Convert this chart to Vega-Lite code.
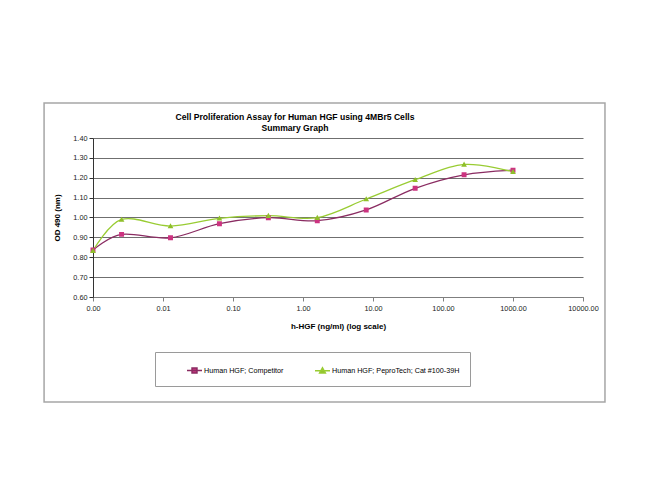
{
  "$schema": "https://vega.github.io/schema/vega-lite/v6.json",
  "width": 490,
  "height": 159,
  "autosize": "none",
  "padding": {"left": 93, "top": 138, "right": 67, "bottom": 205},
  "background": "white",
  "config": {
    "font": "Liberation Sans",
    "view": {"stroke": null},
    "axis": {"labelFont": "Liberation Sans", "titleFont": "Liberation Sans", "labelColor": "#222", "titleColor": "#000"},
    "legend": {"labelFont": "Liberation Sans", "labelFontSize": 7.2, "labelColor": "#000", "symbolStrokeWidth": 1.5}
  },
  "title": {
    "text": ["Cell Proliferation Assay for Human HGF using 4MBr5 Cells", "Summary Graph"],
    "font": "Liberation Sans",
    "fontSize": 8.6,
    "fontWeight": "bold",
    "color": "#000",
    "anchor": "middle",
    "frame": "group",
    "dx": -43,
    "dy": 31,
    "offset": 1,
    "lineHeight": 11
  },
  "data": {
    "values": [
      {"conc": 0.001, "od": 0.836, "series": "Human HGF; Competitor"},
      {"conc": 0.00256, "od": 0.915, "series": "Human HGF; Competitor"},
      {"conc": 0.0128, "od": 0.898, "series": "Human HGF; Competitor"},
      {"conc": 0.064, "od": 0.969, "series": "Human HGF; Competitor"},
      {"conc": 0.32, "od": 0.999, "series": "Human HGF; Competitor"},
      {"conc": 1.6, "od": 0.984, "series": "Human HGF; Competitor"},
      {"conc": 8, "od": 1.038, "series": "Human HGF; Competitor"},
      {"conc": 40, "od": 1.147, "series": "Human HGF; Competitor"},
      {"conc": 200, "od": 1.215, "series": "Human HGF; Competitor"},
      {"conc": 1000, "od": 1.238, "series": "Human HGF; Competitor"},
      {"conc": 0.001, "od": 0.833, "series": "Human HGF; PeproTech; Cat #100-39H"},
      {"conc": 0.00256, "od": 0.990, "series": "Human HGF; PeproTech; Cat #100-39H"},
      {"conc": 0.0128, "od": 0.957, "series": "Human HGF; PeproTech; Cat #100-39H"},
      {"conc": 0.064, "od": 0.996, "series": "Human HGF; PeproTech; Cat #100-39H"},
      {"conc": 0.32, "od": 1.009, "series": "Human HGF; PeproTech; Cat #100-39H"},
      {"conc": 1.6, "od": 0.999, "series": "Human HGF; PeproTech; Cat #100-39H"},
      {"conc": 8, "od": 1.093, "series": "Human HGF; PeproTech; Cat #100-39H"},
      {"conc": 40, "od": 1.190, "series": "Human HGF; PeproTech; Cat #100-39H"},
      {"conc": 200, "od": 1.267, "series": "Human HGF; PeproTech; Cat #100-39H"},
      {"conc": 1000, "od": 1.230, "series": "Human HGF; PeproTech; Cat #100-39H"}
    ]
  },
  "layer": [
    {
      "mark": {"type": "line", "interpolate": "cardinal", "strokeWidth": 1.3},
      "encoding": {
        "x": {
          "field": "conc",
          "type": "quantitative",
          "scale": {"type": "log", "domain": [0.001, 10000], "nice": false},
          "axis": {
            "title": "h-HGF (ng/ml) (log scale)",
            "values": [0.001, 0.01, 0.1, 1, 10, 100, 1000, 10000],
            "format": ".2f",
            "grid": false,
            "labelFontSize": 7.3,
            "labelPadding": 3,
            "titleFontSize": 8,
            "titleFontWeight": "bold",
            "titlePadding": 11,
            "domainColor": "#7f7f7f",
            "tickColor": "#7f7f7f",
            "tickSize": 4,
            "labelFlush": false
          }
        },
        "y": {
          "field": "od",
          "type": "quantitative",
          "scale": {"domain": [0.6, 1.4], "nice": false, "zero": false},
          "axis": {
            "title": "OD 490 (nm)",
            "values": [0.6, 0.7, 0.8, 0.9, 1.0, 1.1, 1.2, 1.3, 1.4],
            "format": ".2f",
            "grid": true,
            "gridColor": "#6f6f6f",
            "gridWidth": 1,
            "labelFontSize": 7.3,
            "labelPadding": 2,
            "titleFontSize": 8,
            "titleFontWeight": "bold",
            "titlePadding": 11,
            "domainColor": "#333",
            "tickColor": "#333",
            "tickSize": 4
          }
        },
        "stroke": {
          "field": "series",
          "type": "nominal",
          "scale": {"domain": ["Human HGF; Competitor", "Human HGF; PeproTech; Cat #100-39H"], "range": ["#8a2c62", "#99cc33"]}
        }
      }
    },
    {
      "mark": {"type": "point", "filled": true, "opacity": 1, "size": 225},
      "encoding": {
        "x": {
          "field": "conc",
          "type": "quantitative",
          "scale": {"type": "log", "domain": [0.001, 10000], "nice": false},
          "axis": {
            "title": "h-HGF (ng/ml) (log scale)",
            "values": [0.001, 0.01, 0.1, 1, 10, 100, 1000, 10000],
            "format": ".2f",
            "grid": false,
            "labelFontSize": 7.3,
            "labelPadding": 3,
            "titleFontSize": 8,
            "titleFontWeight": "bold",
            "titlePadding": 11,
            "domainColor": "#7f7f7f",
            "tickColor": "#7f7f7f",
            "tickSize": 4,
            "labelFlush": false
          }
        },
        "y": {
          "field": "od",
          "type": "quantitative",
          "scale": {"domain": [0.6, 1.4], "nice": false, "zero": false},
          "axis": {
            "title": "OD 490 (nm)",
            "values": [0.6, 0.7, 0.8, 0.9, 1.0, 1.1, 1.2, 1.3, 1.4],
            "format": ".2f",
            "grid": true,
            "gridColor": "#6f6f6f",
            "gridWidth": 1,
            "labelFontSize": 7.3,
            "labelPadding": 2,
            "titleFontSize": 8,
            "titleFontWeight": "bold",
            "titlePadding": 11,
            "domainColor": "#333",
            "tickColor": "#333",
            "tickSize": 4
          }
        },
        "color": {
          "field": "series",
          "type": "nominal",
          "scale": {"domain": ["Human HGF; Competitor", "Human HGF; PeproTech; Cat #100-39H"], "range": ["#cc3380", "#8fbf2a"]},
          "legend": {
            "title": null,
            "orient": "none",
            "legendX": 62,
            "legendY": 214,
            "direction": "horizontal",
            "padding": 10,
            "strokeColor": "#9a9a9a",
            "symbolOffset": 21,
            "symbolSize": 225,
            "symbolStrokeWidth": 1.5,
            "columnPadding": 9,
            "labelOffset": 1,
            "labelLimit": 300,
            "labelExpr": "datum.label + (datum.value === 'Human HGF; PeproTech; Cat #100-39H' ? '\u00a0\u00a0\u00a0\u00a0\u00a0\u00a0\u00a0\u00a0\u00a0\u00a0\u00a0\u00a0\u00a0\u00a0' : '')"
          }
        },
        "shape": {
          "field": "series",
          "type": "nominal",
          "scale": {"domain": ["Human HGF; Competitor", "Human HGF; PeproTech; Cat #100-39H"], "range": ["M-1,0H1M-0.33,-0.33H0.33V0.33H-0.33Z", "M-1,0H1M0,-0.38L0.38,0.3H-0.38Z"]}
        }
      }
    },
    {
      "data": {"values": [{"frame": "chart area"}]},
      "mark": {"type": "rect", "fill": "transparent", "stroke": "#a6a6a6", "strokeWidth": 1.5},
      "encoding": {
        "x": {
          "datum": 0.0002,
          "type": "quantitative",
          "scale": {"type": "log", "domain": [0.001, 10000], "nice": false},
          "axis": {
            "title": "h-HGF (ng/ml) (log scale)",
            "values": [0.001, 0.01, 0.1, 1, 10, 100, 1000, 10000],
            "format": ".2f",
            "grid": false,
            "labelFontSize": 7.3,
            "labelPadding": 3,
            "titleFontSize": 8,
            "titleFontWeight": "bold",
            "titlePadding": 11,
            "domainColor": "#7f7f7f",
            "tickColor": "#7f7f7f",
            "tickSize": 4,
            "labelFlush": false
          }
        },
        "x2": {"datum": 20600},
        "y": {
          "datum": 1.576,
          "type": "quantitative",
          "scale": {"domain": [0.6, 1.4], "nice": false, "zero": false},
          "axis": {
            "title": "OD 490 (nm)",
            "values": [0.6, 0.7, 0.8, 0.9, 1.0, 1.1, 1.2, 1.3, 1.4],
            "format": ".2f",
            "grid": true,
            "gridColor": "#6f6f6f",
            "gridWidth": 1,
            "labelFontSize": 7.3,
            "labelPadding": 2,
            "titleFontSize": 8,
            "titleFontWeight": "bold",
            "titlePadding": 11,
            "domainColor": "#333",
            "tickColor": "#333",
            "tickSize": 4
          }
        },
        "y2": {"datum": 0.072}
      }
    }
  ]
}
